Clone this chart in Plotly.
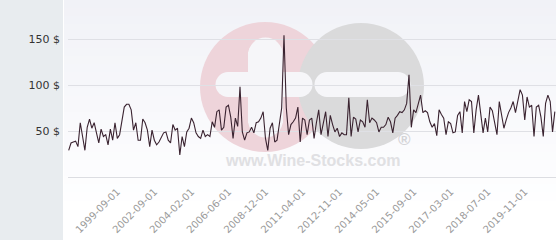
import plotly.graph_objects as go

# ---------------- data ----------------
seg1 = [29, 37, 38, 39, 33, 59, 44, 29, 54, 63, 53, 59, 48, 37, 52, 44, 46, 35, 52, 40,
        59, 42, 46, 59, 76, 79, 79, 73, 51, 59, 40, 40, 63, 59, 51, 33, 51, 40, 35, 38]
seg2 = [43, 48, 49, 40, 37, 57, 51, 53, 24, 44, 33, 49, 53, 64, 59, 48, 44, 42, 51, 44,
        46, 44, 60, 54, 71, 73, 51, 54, 76, 78, 65, 42, 64, 55, 98, 49, 40, 48]
seg3 = [49, 54, 48, 59, 60, 64, 71, 42, 29, 53, 59, 38, 40, 57, 75, 154, 75, 46, 57, 60,
        64, 76, 38, 64, 62, 46, 62, 64, 42, 59, 73, 46, 60, 71, 44, 67, 57, 49, 53, 44,
        48, 46, 46]
seg4 = [86, 44, 65, 63, 49, 62, 60, 54, 84, 59, 64, 62, 59, 49, 54, 54, 57, 65, 60, 48,
        64, 67, 71, 70, 73, 80, 111, 54, 73, 70, 80, 89, 70, 72, 70, 60, 54, 58, 45, 73,
        68, 64, 46, 60, 58, 48]
seg5 = [49, 67, 71, 48, 82, 71, 84, 82, 48, 73, 89, 67, 48, 64, 49, 76, 72, 59, 46, 82,
        65, 53, 62, 70, 75, 82, 70, 84, 95, 89, 62, 87, 76, 78, 44, 76, 78, 65, 44, 80,
        89, 82, 49, 71]
prices = seg1 + seg2 + seg3 + seg4 + seg5
points = list(range(len(prices)))

tick_labels = ["1999-09-01", "2002-09-01", "2004-02-01", "2006-06-01", "2008-12-01",
               "2011-04-01", "2012-11-01", "2014-05-01", "2015-09-01", "2017-03-01",
               "2018-07-01", "2019-11-01"]
tick_points = [21 + 16 * k for k in range(len(tick_labels))]

y_ticks = [50, 100, 150]
y_tick_text = ["50 $", "100 $", "150 $"]

# ---------------- layout helpers ----------------
W, H = 560, 240
L, R, T, B = 68, 4, 0, 63
PW, PH = W - L - R, H - T - B


def px(x):
    return (x - L) / PW


def py(y):
    return (H - B - y) / PH


shapes = []
# left grey panel
shapes.append(dict(type="rect", xref="paper", yref="paper", x0=px(0), x1=px(63),
                   y0=py(H), y1=py(0), fillcolor="#e8ecef", line=dict(width=0), layer="below"))
# gradient plot background (top light grey-blue fading to white)
n = 25
c0 = (241, 242, 247)
c1 = (254, 254, 255)
band = 200 / n
for k in range(n):
    t = k / (n - 1)
    col = tuple(round(c0[i] + (c1[i] - c0[i]) * t) for i in range(3))
    y0p = k * band
    shapes.append(dict(type="rect", xref="paper", yref="paper", x0=px(64), x1=px(556),
                       y0=py(y0p + band + 0.5), y1=py(y0p), fillcolor="rgb(%d,%d,%d)" % col,
                       line=dict(width=0), layer="below"))


def circle(cx, cy, r, color):
    return dict(type="circle", xref="paper", yref="paper", x0=px(cx - r), x1=px(cx + r),
                y0=py(cy + r), y1=py(cy - r), fillcolor=color, line=dict(width=0), layer="below")


def rect(x0, y0, x1, y1, color):
    return dict(type="rect", xref="paper", yref="paper", x0=px(x0), x1=px(x1),
                y0=py(y1), y1=py(y0), fillcolor=color, line=dict(width=0), layer="below")


pink = "#eed4da"
grey = "#dadadb"
bar = "#f6f6f9"
shapes.append(circle(265, 87, 65, pink))
shapes.append(circle(361, 86, 63, grey))
# plus sign
shapes.append(rect(248, 52, 283, 123, bar))
shapes.append(circle(265.5, 55, 17.5, bar))
shapes.append(circle(265.5, 120, 17.5, bar))
shapes.append(rect(228, 72, 300, 97, bar))
shapes.append(circle(228, 84.5, 12.5, bar))
shapes.append(circle(300, 84.5, 12.5, bar))
# minus sign
shapes.append(rect(327, 72, 398, 97, bar))
shapes.append(circle(327, 84.5, 12.5, bar))
shapes.append(circle(398, 84.5, 12.5, bar))

annotations = [
    dict(xref="paper", yref="paper", x=px(312), y=py(160), yanchor="middle",
         text="<b>www.Wine-Stocks.com</b>",
         showarrow=False, font=dict(family="Liberation Sans", size=16, color="#e0e0e3")),
    dict(xref="paper", yref="paper", x=px(413), y=py(139), yanchor="middle", text="<b>®</b>",
         showarrow=False, font=dict(family="Liberation Sans", size=17, color="#d4d4d7")),
]

fig = go.Figure()
fig.add_trace(go.Scatter(x=points, y=prices, mode="lines",
                         line=dict(color="#3a2330", width=1.1), hoverinfo="skip"))

fig.update_layout(
    width=W, height=H,
    margin=dict(l=L, r=R, t=T, b=B),
    paper_bgcolor="white",
    plot_bgcolor="rgba(0,0,0,0)",
    showlegend=False,
    shapes=shapes,
    annotations=annotations,
    xaxis=dict(range=[-0.3, len(prices) - 0.5], tickvals=tick_points, ticktext=tick_labels,
               tickangle=-45, showgrid=False, zeroline=False, showline=True,
               linecolor="#dcdde2", linewidth=1, ticks="",
               tickfont=dict(family="DejaVu Sans", size=10, color="#9a9a9a"),
               ticklabelstandoff=4),
    yaxis=dict(range=[0, 192.4], tickvals=y_ticks, ticktext=y_tick_text, showgrid=True,
               gridcolor="#dfe0e5", gridwidth=1, zeroline=False, showline=False, ticks="",
               tickfont=dict(family="DejaVu Sans", size=11, color="#333333"),
               ticklabelstandoff=7),
)

fig.write_html("out.html")
